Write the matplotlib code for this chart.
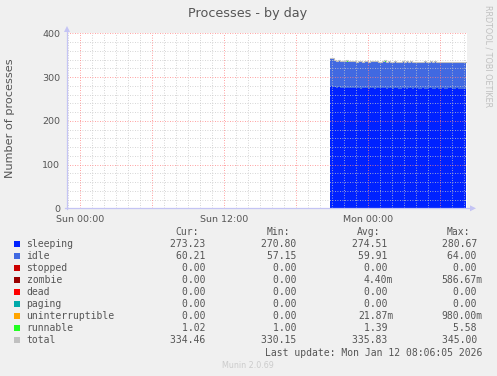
import numpy as np
import matplotlib
matplotlib.use("Agg")
import matplotlib.pyplot as plt
from matplotlib.patches import Rectangle, Polygon
from matplotlib.lines import Line2D

W, H = 497, 376

# ---------------- data ----------------
x_ticks = [0, 12, 24]
x_tick_labels = ["Sun 00:00", "Sun 12:00", "Mon 00:00"]
y_ticks = [0, 100, 200, 300, 400]

data_start_h = 20.83
step_h = 1 / 6

sleeping = [280.5, 278.2, 276.9, 275.8, 276.4, 275.1, 274.8, 275.6, 274.2, 275.0,
            274.6, 273.9, 274.8, 275.3, 274.1, 273.6, 274.5, 275.2, 274.0, 273.8,
            274.9, 274.3, 273.5, 274.7, 275.1, 273.9, 274.2, 274.8, 273.4, 274.0,
            274.6, 273.7, 274.3, 275.0, 273.8, 273.2, 274.4, 274.9, 273.6, 274.1,
            274.7, 273.3, 273.9, 274.5, 273.1, 273.8, 274.6, 273.5, 272.9, 274.0,
            274.4, 273.2, 273.7, 274.3, 272.8, 273.5, 274.1, 273.0, 272.6, 273.9,
            274.2, 272.9, 273.4, 274.0, 272.7, 273.3, 273.8, 272.9, 273.2]
idle = [62.5, 63.8, 61.2, 60.4, 59.7, 60.9, 61.3, 59.2, 60.6, 59.8,
        60.2, 61.0, 59.5, 58.9, 60.7, 61.4, 59.9, 59.3, 60.8, 60.1,
        59.6, 60.5, 61.2, 59.4, 58.8, 60.3, 60.9, 59.7, 60.6, 61.1,
        59.5, 60.2, 60.8, 59.1, 60.4, 61.3, 59.8, 59.2, 60.7, 60.0,
        59.5, 61.0, 60.3, 59.6, 60.9, 60.2, 59.4, 60.8, 61.2, 59.7,
        59.9, 60.6, 60.1, 59.3, 61.0, 60.4, 59.8, 60.7, 61.1, 59.6,
        59.9, 60.5, 60.2, 59.4, 60.9, 60.3, 59.7, 60.6, 60.2]
runnable = [1.5, 2.2, 1.3, 1.1, 1.8, 1.2, 1.0, 1.4, 3.1, 1.2,
            1.1, 1.3, 1.6, 1.0, 1.2, 1.9, 1.1, 1.3, 1.0, 1.4,
            2.4, 1.2, 1.1, 1.5, 1.0, 1.3, 1.2, 5.6, 1.4, 1.1,
            1.0, 1.3, 1.7, 1.2, 1.1, 1.0, 1.5, 1.2, 1.3, 1.1,
            2.8, 1.0, 1.2, 1.4, 1.1, 1.3, 1.0, 1.6, 1.2, 1.1,
            1.3, 1.0, 2.1, 1.2, 1.4, 1.1, 1.0, 1.3, 1.5, 1.2,
            1.1, 1.0, 1.4, 1.2, 1.8, 1.1, 1.0, 1.3, 1.0]

legend_names = ["sleeping", "idle", "stopped", "zombie", "dead", "paging",
                "uninterruptible", "runnable", "total"]
legend_colors = ["#0022ff", "#4169e1", "#cc0000", "#990000", "#ff0000",
                 "#00aaaa", "#ffa500", "#22ff22", "#c0c0c0"]
cur_vals = ["273.23 ", "60.21 ", "0.00 ", "0.00 ", "0.00 ", "0.00 ", "0.00 ", "1.02 ", "334.46 "]
min_vals = ["270.80 ", "57.15 ", "0.00 ", "0.00 ", "0.00 ", "0.00 ", "0.00 ", "1.00 ", "330.15 "]
avg_vals = ["274.51 ", "59.91 ", "0.00 ", "4.40m", "0.00 ", "0.00 ", "21.87m", "1.39 ", "335.83 "]
max_vals = ["280.67 ", "64.00 ", "0.00 ", "586.67m", "0.00 ", "0.00 ", "980.00m", "5.58 ", "345.00 "]

# ---------------- figure ----------------
fig = plt.figure(figsize=(W / 100, H / 100), dpi=100, facecolor="#f0f0f0")

def fx(x):
    return x / W

def fy(y):
    return 1 - y / H

ax_l, ax_r, ax_t, ax_b = 67, 467, 33.3, 208.3
ax = fig.add_axes([fx(ax_l), fy(ax_b), (ax_r - ax_l) / W, (ax_b - ax_t) / H])
ax.set_facecolor("white")
ax.set_xlim(-13 / 12, 32.25)
ax.set_ylim(0, 400)
for s in ax.spines.values():
    s.set_visible(False)

sl = np.array(sleeping)
idl = np.array(idle)
rn = np.array(runnable)
t = data_start_h + np.arange(len(sl)) * step_h
t_ext = np.append(t, t[-1] + step_h * 0.01)

def ext(a):
    return np.append(a, a[-1])

b1 = sl
b2 = sl + idl
b3 = sl + idl + rn
ax.fill_between(t_ext, 0, ext(b1), step="post", color="#0022ff", lw=0, zorder=1)
ax.fill_between(t_ext, ext(b1), ext(b2), step="post", color="#4169e1", lw=0, zorder=1)
ax.fill_between(t_ext, ext(b2), ext(b3), step="post", color="#22ff22", lw=0, zorder=1)
ax.step(t_ext, ext(b3), where="post", color="#c0c0c0", lw=0.8, zorder=2)

# grid (drawn over data like rrdtool)
dot = (0, (1, 2))
for h in np.arange(-1, 33, 1):
    if h % 6 != 0:
        ax.axvline(h, color="#c8c8c8", lw=0.6, ls=dot, zorder=3)
for h in np.arange(0, 33, 6):
    ax.axvline(h, color="#ff8080", lw=0.6, ls=dot, zorder=4)
for v in np.arange(20, 401, 20):
    if v % 100 != 0:
        ax.axhline(v, color="#c8c8c8", lw=0.6, ls=dot, zorder=3)
for v in [100, 200, 300, 400]:
    ax.axhline(v, color="#ff8080", lw=0.6, ls=dot, zorder=4)

ax.set_xticks(x_ticks)
ax.set_xticklabels(x_tick_labels)
ax.set_yticks(y_ticks)
ax.set_yticklabels([str(v) for v in y_ticks])
ax.tick_params(axis="both", length=0, labelsize=6.8, labelcolor="#555555")
ax.tick_params(axis="x", pad=5)
ax.tick_params(axis="y", pad=5)

# axis lines with arrows
axis_col = "#c4c4f4"
fig.add_artist(Line2D([fx(ax_l), fx(ax_l)], [fy(ax_b + 1), fy(30)], color=axis_col, lw=0.9,
                      transform=fig.transFigure))
fig.add_artist(Polygon([[fx(ax_l - 3), fy(32)], [fx(ax_l + 3), fy(32)], [fx(ax_l), fy(26)]],
                       closed=True, color=axis_col, transform=fig.transFigure, lw=0))
fig.add_artist(Line2D([fx(ax_l - 2), fx(472)], [fy(ax_b), fy(ax_b)], color=axis_col, lw=0.9,
                      transform=fig.transFigure))
fig.add_artist(Polygon([[fx(470), fy(ax_b - 3)], [fx(470), fy(ax_b + 3)], [fx(476), fy(ax_b)]],
                       closed=True, color=axis_col, transform=fig.transFigure, lw=0))

# titles
fig.text(fx(248), fy(13), "Processes - by day", ha="center", va="center",
         fontsize=9.2, color="#555555", family="DejaVu Sans")
fig.text(fx(10.5), fy(118), "Number of processes", ha="center", va="center",
         rotation=90, fontsize=8.1, color="#555555", family="DejaVu Sans")
fig.text(fx(488), fy(5), "RRDTOOL / TOBI OETIKER", ha="center", va="top",
         rotation=-90, fontsize=5.8, color="#c0c0c0", family="DejaVu Sans")

# legend
mono = dict(family="DejaVu Sans Mono", fontsize=7, color="#555555", va="center")
head_y = 231.7
for xr, txt in [(199, "Cur:"), (290, "Min:"), (380, "Avg:"), (470, "Max:")]:
    fig.text(fx(xr), fy(head_y), txt, ha="right", **mono)
row0, dy = 244.3, 12
for i, name in enumerate(legend_names):
    y = row0 + i * dy
    fig.add_artist(Rectangle((fx(14), fy(y + 3)), 6 / W, 6 / H, color=legend_colors[i],
                             transform=fig.transFigure, lw=0))
    fig.text(fx(26.5), fy(y), name, ha="left", **mono)
    fig.text(fx(211.5), fy(y), cur_vals[i], ha="right", **mono)
    fig.text(fx(302.5), fy(y), min_vals[i], ha="right", **mono)
    fig.text(fx(393.3), fy(y), avg_vals[i], ha="right", **mono)
    fig.text(fx(482.7), fy(y), max_vals[i], ha="right", **mono)

fig.text(fx(482.7), fy(352.7), "Last update: Mon Jan 12 08:06:05 2026", ha="right", **mono)
fig.text(fx(248), fy(365), "Munin 2.0.69", ha="center", va="center", fontsize=5.8,
         color="#cccccc", family="DejaVu Sans")

fig.savefig("out.png", dpi=100, facecolor=fig.get_facecolor())
